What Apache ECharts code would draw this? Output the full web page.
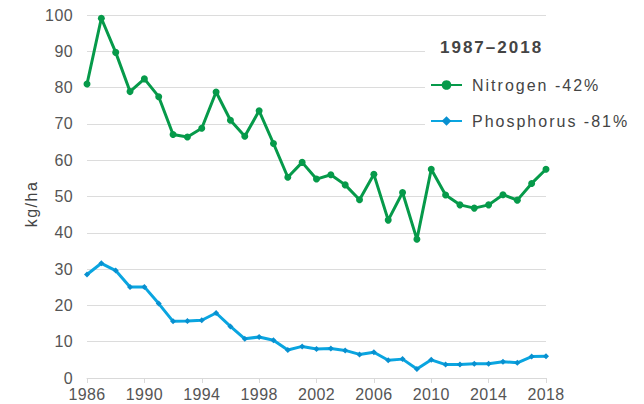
<!DOCTYPE html>
<html><head><meta charset="utf-8">
<script src="https://cdn.jsdelivr.net/npm/echarts@6/dist/echarts.min.js"></script>
<style>html,body{margin:0;padding:0;background:#fff}#c{width:644px;height:404px}#c svg text{letter-spacing:0.4px}</style>
</head><body><div id="c"></div>
<script>
var years = [];
for (var y = 1986; y <= 2018; y++) years.push(String(y));
var nitrogen = [81.0,99.1,89.7,78.9,82.4,77.5,67.1,66.4,68.8,78.8,71.0,66.6,73.6,64.6,55.3,59.4,54.8,56.0,53.2,49.1,56.1,43.5,51.1,38.2,57.5,50.4,47.7,46.8,47.7,50.5,49.0,53.6,57.5];
var phosphorus = [28.5,31.6,29.6,25.1,25.1,20.5,15.6,15.7,15.9,17.9,14.2,10.8,11.3,10.4,7.7,8.7,8.0,8.1,7.6,6.5,7.1,4.9,5.2,2.5,5.0,3.7,3.7,3.9,3.9,4.5,4.2,5.9,6.0];
var seriesNames = ['Nitrogen -42%','Phosphorus -81%'];
var periodTitle = '1987\u20132018';
var unitLabel = 'kg/ha';
var font = 'Liberation Sans, Arial, sans-serif';
var chart = echarts.init(document.getElementById('c'), null, {renderer:'svg'});
chart.setOption({
  animation:false,
  textStyle:{fontFamily:font},
  grid:{left:87,right:98,top:15,bottom:26,containLabel:false},
  title:{text:periodTitle,left:435,top:34,textStyle:{fontFamily:font,fontSize:17,fontWeight:'bold',color:'#444'}},
  legend:{orient:'vertical',left:425,top:72,itemWidth:31,itemHeight:12,itemGap:20,
    textStyle:{fontFamily:font,fontSize:16,color:'#444',padding:[0,0,0,5]},data:seriesNames},
  graphic:[
    {type:'rect',z:1,shape:{x:425,y:32,width:150,height:110},style:{fill:'#fff'}},
    {type:'text',z:5,x:31,y:204,rotation:Math.PI/2,
      style:{text:unitLabel,fill:'#444',font:'16px Liberation Sans, Arial, sans-serif',textAlign:'center',textVerticalAlign:'middle'}}
  ],
  xAxis:{type:'category',data:years,boundaryGap:false,
    axisLine:{lineStyle:{color:'#d9d9d9',width:1}},
    axisTick:{show:true,interval:3,length:5,lineStyle:{color:'#d9d9d9'}},
    axisLabel:{interval:3,color:'#555',fontSize:16,fontFamily:font,margin:8},
    splitLine:{show:false}},
  yAxis:{type:'value',min:0,max:100,interval:10,
    axisLine:{show:false},axisTick:{show:false},
    axisLabel:{color:'#555',fontSize:16,fontFamily:font,margin:14},
    splitLine:{lineStyle:{color:'#dcdcdc',width:1}}},
  series:[
    {name:seriesNames[0],type:'line',data:nitrogen,z:3,symbol:'circle',symbolSize:7,showAllSymbol:true,
      lineStyle:{color:'#069a4a',width:3},itemStyle:{color:'#069a4a'}},
    {name:seriesNames[1],type:'line',data:phosphorus,z:3,symbol:'diamond',symbolSize:6,showAllSymbol:true,
      lineStyle:{color:'#0aa5e0',width:3},itemStyle:{color:'#0890d0'}}
  ]
});
function spacing(){
  var wide = seriesNames.concat([periodTitle]);
  document.querySelectorAll('#c svg text').forEach(function(t){
    var s = t.textContent;
    if (wide.indexOf(s) >= 0) t.style.letterSpacing = '2px';
    else if (s === unitLabel) t.style.letterSpacing = '1.5px';
  });
}
spacing();
chart.on('finished', spacing);
requestAnimationFrame(spacing);
</script></body></html>
